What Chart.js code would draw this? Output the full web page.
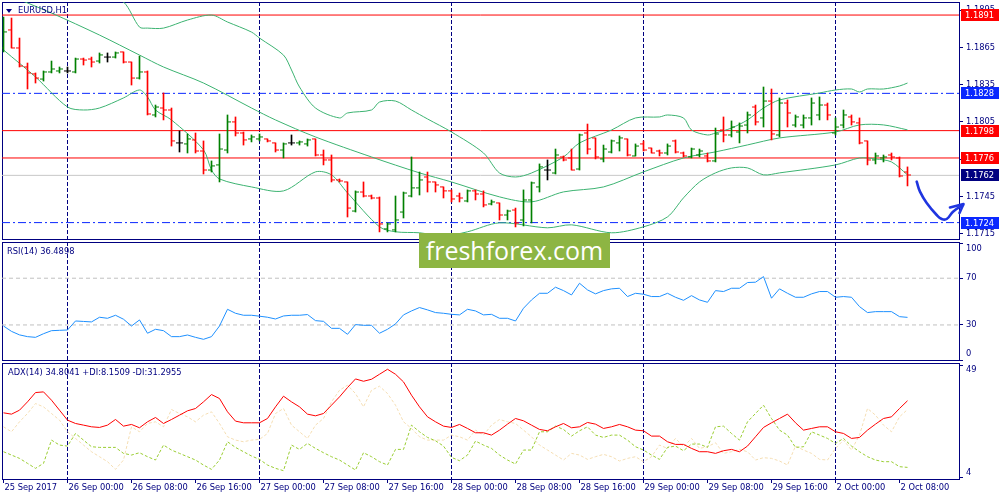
<!DOCTYPE html>
<html><head><meta charset="utf-8">
<script src="https://cdn.jsdelivr.net/npm/chart.js@4.4.1/dist/chart.umd.min.js"></script>
<style>
html,body{margin:0;padding:0;background:#fff;}
#wrap{position:relative;width:1000px;height:500px;overflow:hidden;background:#fff;}
#wrap canvas{position:absolute;left:0;}
.lbl{position:absolute;font-family:'DejaVu Sans';font-size:8.3px;color:#000080;white-space:nowrap;line-height:10px;}
#tri{position:absolute;left:6px;top:9px;width:0;height:0;border-left:3px solid transparent;border-right:3px solid transparent;border-top:4px solid #000080;}
#wm{position:absolute;left:419px;top:233px;width:191px;height:35px;background:#8db543;color:#fff;font-family:'Open Sans';font-size:25px;line-height:35px;text-align:center;}
</style></head><body>
<div id="wrap">
<canvas id="cMain" width="1000" height="241" style="top:0"></canvas>
<canvas id="cRsi" width="1000" height="120" style="top:241px"></canvas>
<canvas id="cAdx" width="1000" height="139" style="top:361px"></canvas>
<div id="tri"></div>
<div class="lbl" style="left:18px;top:5px">EURUSD,H1</div>
<div class="lbl" style="left:7px;top:246px">RSI(14) 36.4898</div>
<div class="lbl" style="left:8px;top:367px">ADX(14) 34.8041 +DI:8.1509 -DI:31.2955</div>
<div id="wm">freshforex.com</div>
</div>
<script>
// ---------- data ----------
const timeLabels = ["25 Sep 2017","26 Sep 00:00","26 Sep 08:00","26 Sep 16:00","27 Sep 00:00","27 Sep 08:00","27 Sep 16:00","28 Sep 00:00","28 Sep 08:00","28 Sep 16:00","29 Sep 00:00","29 Sep 08:00","29 Sep 16:00","2 Oct 00:00","2 Oct 08:00"];
const timeLabelIdx = [0,8,16,24,32,40,48,56,64,72,80,88,96,104,112];
const daySepIdx = [8,32,56,80,104];

const opens = [1.18645,1.18790,1.18645,1.18492,1.18436,1.18395,1.18452,1.18460,1.18460,1.18452,
1.18556,1.18556,1.18540,1.18572,1.18572,1.18613,1.18532,1.18403,1.18452,1.18106,
1.18162,1.18146,1.17881,1.17873,1.17905,1.17816,1.17663,1.17704,1.17824,1.18050,
1.17961,1.17913,1.17913,1.17913,1.17881,1.17824,1.17881,1.17881,1.17873,1.17913,
1.17784,1.17744,1.17583,1.17567,1.17333,1.17486,1.17454,1.17438,1.17189,1.17181,
1.17325,1.17454,1.17519,1.17607,1.17567,1.17527,1.17495,1.17454,1.17414,1.17495,
1.17470,1.17390,1.17398,1.17301,1.17341,1.17261,1.17422,1.17527,1.17663,1.17639,
1.17768,1.17760,1.17671,1.17961,1.17921,1.17752,1.17808,1.17881,1.17913,1.17776,
1.17873,1.17840,1.17816,1.17800,1.17897,1.17800,1.17768,1.17784,1.17776,1.17736,
1.17985,1.17945,1.17969,1.18025,1.18170,1.18082,1.18218,1.17945,1.18202,1.18025,
1.18025,1.18082,1.18106,1.18186,1.17961,1.18025,1.18090,1.18042,1.17897,1.17744,
1.17760,1.17784,1.17760,1.17647];
const highs = [1.18894,1.18886,1.18725,1.18524,1.18444,1.18460,1.18540,1.18492,1.18492,1.18564,
1.18564,1.18572,1.18605,1.18605,1.18613,1.18613,1.18532,1.18580,1.18460,1.18186,
1.18283,1.18162,1.17977,1.17953,1.17961,1.17897,1.17736,1.17953,1.18106,1.18090,
1.17969,1.17945,1.17953,1.17913,1.17881,1.17881,1.17945,1.17897,1.17913,1.17913,
1.17824,1.17784,1.17591,1.17567,1.17495,1.17567,1.17462,1.17446,1.17237,1.17454,
1.17486,1.17768,1.17647,1.17647,1.17567,1.17527,1.17503,1.17478,1.17503,1.17503,
1.17495,1.17422,1.17398,1.17341,1.17357,1.17503,1.17567,1.17712,1.17744,1.17832,
1.17776,1.17832,1.17953,1.18033,1.17921,1.17864,1.17905,1.17937,1.17913,1.17873,
1.17897,1.17840,1.17824,1.17873,1.17905,1.17808,1.17840,1.17832,1.17800,1.18001,
1.18090,1.18058,1.18042,1.18130,1.18186,1.18331,1.18315,1.18243,1.18227,1.18106,
1.18106,1.18243,1.18251,1.18202,1.18082,1.18146,1.18106,1.18082,1.17897,1.17800,
1.17784,1.17800,1.17768,1.17688];
const lows = [1.18613,1.18645,1.18492,1.18315,1.18363,1.18379,1.18444,1.18444,1.18444,1.18444,
1.18508,1.18492,1.18524,1.18532,1.18564,1.18524,1.18347,1.18395,1.18106,1.18090,
1.18066,1.17856,1.17808,1.17800,1.17800,1.17631,1.17647,1.17567,1.17800,1.17937,
1.17864,1.17889,1.17897,1.17889,1.17808,1.17760,1.17864,1.17864,1.17856,1.17776,
1.17704,1.17567,1.17567,1.17285,1.17325,1.17446,1.17430,1.17165,1.17165,1.17165,
1.17277,1.17446,1.17462,1.17486,1.17486,1.17438,1.17406,1.17406,1.17406,1.17422,
1.17366,1.17382,1.17261,1.17261,1.17205,1.17213,1.17237,1.17486,1.17583,1.17631,
1.17736,1.17663,1.17663,1.17792,1.17752,1.17728,1.17800,1.17816,1.17776,1.17776,
1.17816,1.17800,1.17776,1.17784,1.17800,1.17768,1.17760,1.17768,1.17728,1.17728,
1.17889,1.17929,1.17881,1.17961,1.18025,1.18009,1.17905,1.17929,1.18009,1.18009,
1.18001,1.18025,1.18066,1.18066,1.17945,1.18001,1.18025,1.17873,1.17704,1.17712,
1.17728,1.17744,1.17607,1.17535];
const closes = [1.18774,1.18645,1.18500,1.18444,1.18403,1.18452,1.18476,1.18476,1.18460,1.18556,
1.18548,1.18532,1.18589,1.18572,1.18605,1.18532,1.18403,1.18452,1.18114,1.18170,
1.18146,1.17897,1.17881,1.17913,1.17816,1.17663,1.17696,1.17832,1.18050,1.17961,
1.17905,1.17929,1.17929,1.17897,1.17824,1.17873,1.17881,1.17889,1.17905,1.17784,
1.17744,1.17583,1.17575,1.17357,1.17486,1.17454,1.17438,1.17229,1.17229,1.17261,
1.17478,1.17519,1.17583,1.17567,1.17543,1.17495,1.17430,1.17438,1.17495,1.17470,
1.17382,1.17406,1.17301,1.17333,1.17237,1.17422,1.17559,1.17688,1.17663,1.17784,
1.17744,1.17663,1.17945,1.17832,1.17768,1.17832,1.17897,1.17921,1.17784,1.17856,
1.17824,1.17800,1.17800,1.17856,1.17808,1.17776,1.17832,1.17816,1.17736,1.17953,
1.17945,1.18009,1.18017,1.18106,1.18050,1.18218,1.17953,1.18202,1.18122,1.18090,
1.18082,1.18202,1.18186,1.18106,1.18009,1.18106,1.18050,1.17881,1.17744,1.17776,
1.17768,1.17768,1.17615,1.17623];

// Bollinger bands (20,2): [bar index, price]
const bbUpper = [[0,1.19352],[6,1.19232],[12,1.19095],[15,1.19015],[17,1.18813],[18,1.18805],[20,1.18805],[23,1.18870],[26,1.18910],[28,1.18854],[31,1.18773],[32,1.18725],[35,1.18588],[36,1.18468],[37,1.18331],[39,1.18162],[42,1.18082],[43,1.18122],[46,1.18146],[47,1.18210],[49,1.18218],[51,1.18146],[53,1.18074],[56,1.17969],[60,1.17800],[62,1.17639],[64,1.17607],[66,1.17639],[70,1.17768],[72,1.17881],[76,1.17985],[79,1.18082],[82,1.18090],[83,1.18106],[85,1.18082],[86,1.17985],[88,1.17945],[89,1.17961],[91,1.18001],[93,1.18066],[95,1.18162],[97,1.18227],[102,1.18283],[104,1.18307],[106,1.18315],[107,1.18291],[108,1.18315],[110,1.18315],[112,1.18339],[113,1.18363]];
const bbMiddle = [[0,1.19087],[6,1.18926],[12,1.18749],[17,1.18588],[20,1.18492],[25,1.18363],[31,1.18162],[34,1.18066],[39,1.17929],[46,1.17768],[52,1.17640],[56,1.17567],[62,1.17447],[66,1.17407],[70,1.17487],[75,1.17527],[80,1.17648],[85,1.17760],[89,1.17809],[93,1.17865],[97,1.17921],[104,1.17969],[107,1.18026],[110,1.18026],[113,1.17986]];
const bbLower = [[0,1.18629],[4,1.18412],[8,1.18170],[10,1.18146],[12,1.18162],[15,1.18243],[17,1.18307],[18,1.18251],[19,1.18146],[21,1.18066],[25,1.17825],[26,1.17664],[27,1.17591],[31,1.17527],[35,1.17495],[39,1.17648],[41,1.17624],[43,1.17479],[47,1.17206],[49,1.17166],[52,1.17158],[55,1.17133],[58,1.17166],[62,1.17238],[68,1.17198],[71,1.17222],[76,1.17158],[80,1.17206],[83,1.17286],[85,1.17439],[87,1.17567],[89,1.17640],[91,1.17680],[93,1.17680],[95,1.17624],[97,1.17640],[104,1.17704],[107,1.17760],[109,1.17752],[111,1.17728],[113,1.17624]];

const redLevels = [1.1891, 1.1798, 1.1776];
const blueLevels = [1.1828, 1.1724];
const bidPrice = 1.1762;
const priceTicks = [1.1715, 1.1745, 1.1775, 1.1805, 1.1835, 1.1865, 1.1895];

// hand-drawn arrow, [bar index, price]
const arrowPath = [[114.15,1.17569],[114.56,1.17489],[115.4,1.17398],[116.65,1.17301],[117.28,1.17269],[117.9,1.17269],[118.69,1.17328],[119.94,1.17382]];
const arrowHead = [[118.31,1.17362],[120.0,1.17390],[119.5,1.17317]];

const rsi = [29.1,24.5,21.5,20.0,19.4,22.5,25.1,25.4,25.7,33.4,
33.0,32.6,36.6,35.7,38.3,34.9,29.1,34.3,22.9,26.3,
25.1,20.0,20.0,21.4,19.4,17.7,20.0,29.1,43.4,40.0,
38.3,38.3,37.5,36.6,35.1,37.7,38.3,38.3,38.9,33.7,
33.1,27.1,27.1,22.0,30.3,29.7,29.7,22.9,26.3,30.9,
38.6,42.0,44.9,42.9,40.6,40.0,39.1,38.6,43.4,42.0,
38.6,39.1,35.7,35.7,33.4,44.3,51.4,57.1,57.1,62.3,
59.4,55.7,65.7,60.0,56.6,59.4,60.9,61.4,54.3,57.1,
56.3,54.3,54.3,57.1,53.7,51.1,55.1,51.4,49.4,59.4,
58.6,61.4,61.4,66.3,66.6,71.4,52.9,60.9,57.1,53.7,
53.7,56.6,58.6,58.6,53.7,54.3,53.7,45.7,40.6,41.4,
41.4,41.4,37.1,36.49];
const rsiLevels = [30, 70];
const rsiTicks = [0, 30, 70, 100];

const adx = [29.97,29.44,31.03,34.36,38.08,38.35,35.02,31.03,27.04,25.71,
25.05,24.38,24.12,25.05,27.31,24.65,25.32,23.99,26.38,28.11,
25.71,27.31,29.04,30.77,31.70,34.36,37.28,35.69,30.37,26.65,
25.98,25.98,25.98,27.71,32.36,36.62,34.36,32.36,29.44,28.77,
29.70,33.03,36.35,40.08,43.53,42.60,43.40,45.40,47.39,45.40,
42.34,37.02,32.36,28.37,26.38,24.65,24.12,25.32,23.72,21.99,
21.99,21.06,23.05,25.45,27.71,26.78,25.05,23.32,22.79,24.38,
25.71,23.99,24.38,26.11,25.45,23.72,24.38,25.32,24.38,23.05,
22.79,20.66,20.66,18.40,17.34,17.34,15.74,14.41,14.41,13.75,
14.81,15.34,14.41,16.67,20.39,24.12,25.98,27.71,29.44,25.98,
23.05,23.72,24.38,24.38,22.39,21.72,19.73,20.13,23.05,25.45,
27.71,28.37,31.70,34.80];
const plusDI = [14.41,13.08,11.75,9.76,7.76,9.76,19.06,17.07,16.67,21.72,
19.06,16.41,16.14,16.14,16.14,13.75,13.08,14.01,12.42,11.09,
17.07,15.08,13.75,12.42,11.09,9.09,7.36,11.09,18.40,16.14,
14.41,12.70,11.35,9.09,7.76,6.83,17.07,15.34,17.74,15.74,
14.01,12.42,11.09,9.09,7.10,14.01,12.42,10.42,9.09,15.34,
15.34,25.05,22.39,20.13,18.80,16.67,12.15,10.82,13.08,18.67,
17.07,15.74,13.08,11.09,9.49,15.08,15.08,22.39,22.39,24.65,
23.32,20.66,22.79,24.38,21.06,20.13,21.06,21.06,19.06,16.41,
15.08,13.08,11.35,16.14,16.67,14.81,17.47,17.47,16.14,24.38,
24.65,21.72,19.06,26.38,29.70,33.03,27.71,23.05,21.06,16.14,
16.41,22.39,21.06,19.73,17.74,19.73,16.67,14.41,12.42,11.09,
10.42,10.42,8.43,8.15];
const minusDI = [24.38,22.39,26.38,29.70,33.69,32.36,29.70,27.04,22.39,19.73,
17.07,14.41,12.42,10.42,7.36,11.09,24.38,22.39,25.71,26.38,
24.38,31.30,29.70,28.37,26.38,29.04,30.37,25.71,20.39,19.06,
18.40,19.06,19.33,21.72,29.70,31.70,25.05,22.39,19.73,25.05,
27.71,34.36,39.01,41.01,37.68,32.36,39.01,40.61,37.68,33.03,
26.38,23.72,20.39,19.06,19.06,19.06,21.06,20.39,19.06,23.05,
21.06,25.05,27.31,26.38,25.71,23.05,20.39,17.07,15.08,13.08,
11.09,13.75,13.08,11.35,12.42,13.35,12.42,10.69,11.75,12.42,
10.42,12.42,17.07,15.74,19.73,16.41,19.73,15.74,16.41,18.00,
13.75,14.41,15.34,14.41,11.09,12.02,11.75,10.69,9.09,16.67,
15.08,13.75,11.35,11.09,15.74,19.06,15.08,21.06,31.70,29.04,
25.05,22.39,28.37,31.30];
const adxTicks = [4, 49];

// ---------- styling / scales ----------
const NAVY = '#000080';
const FONT = 'DejaVu Sans';
const FSIZE = 8.3;
const UP = '#008000', DOWN = '#ff0000', FLAT = '#000000';
const BB = '#3cb371';
const ARROW = '#1f35e0';
const X_MIN = -0.1875, X_MAX = 119.4375;
const P_MIN = 1.17108, P_MAX = 1.19015;
Chart.defaults.font.family = FONT;
Chart.defaults.font.size = FSIZE;

const barColors = closes.map((c, i) => c > opens[i] ? UP : (c < opens[i] ? DOWN : FLAT));
const pts = arr => arr.map(([x, y]) => ({x, y}));
const series = arr => arr.map((y, i) => ({x: i, y}));
const hline = v => [{x: X_MIN, y: v}, {x: X_MAX, y: v}];

const paneBorder = {
  id: 'paneBorder',
  beforeDatasetsDraw(chart) {
    const {ctx, chartArea: a} = chart;
    ctx.save(); ctx.strokeStyle = NAVY; ctx.lineWidth = 1;
    ctx.strokeRect(a.left + 0.5, a.top + 0.5, a.right - a.left, a.bottom - a.top);
    ctx.restore();
  }
};
const clampLabels = {
  id: 'clampLabels',
  afterDraw(chart) {
    const s = chart.scales.y, a = chart.chartArea, ctx = chart.ctx;
    ctx.save(); ctx.font = FSIZE + 'px "' + FONT + '"'; ctx.fillStyle = NAVY;
    ctx.textAlign = 'left'; ctx.textBaseline = 'middle';
    s.ticks.forEach(t => {
      const y = Math.min(Math.max(s.getPixelForValue(t.value), a.top + 7), a.bottom - 6.5);
      ctx.fillText(String(t.value), a.right + 7, y);
    });
    ctx.restore();
  }
};
const priceBoxes = {
  id: 'priceBoxes',
  afterDraw(chart) {
    const s = chart.scales.y, a = chart.chartArea, ctx = chart.ctx;
    const boxes = [].concat(redLevels.map(v => [v, '#ff0000']), blueLevels.map(v => [v, '#0a28ff']), [[bidPrice, NAVY]]);
    ctx.save(); ctx.font = FSIZE + 'px "' + FONT + '"'; ctx.textAlign = 'left'; ctx.textBaseline = 'middle';
    boxes.forEach(([v, col]) => {
      const y = Math.round(s.getPixelForValue(v));
      ctx.fillStyle = col; ctx.fillRect(a.right + 2, y - 6, 38, 12);
      ctx.fillStyle = '#ffffff'; ctx.fillText(v.toFixed(4), a.right + 6, y + 0.5);
    });
    ctx.restore();
  }
};

function hiddenX() {
  return {
    type: 'linear', min: X_MIN, max: X_MAX, offset: false,
    afterBuildTicks: s => { s.ticks = daySepIdx.map(v => ({value: v})); },
    afterFit: s => { s.height = 0; s.paddingLeft = 0; s.paddingRight = 0; },
    ticks: {display: false},
    grid: {color: NAVY, drawTicks: false, lineWidth: 1, offset: false},
    border: {display: false, dash: [4, 2]}
  };
}
function rightY(min, max, ticks, showLabels, fmt) {
  return {
    type: 'linear', position: 'right', min, max,
    afterBuildTicks: s => { s.ticks = ticks.map(v => ({value: v})); },
    afterFit: s => { s.width = 41; s.paddingTop = 0; s.paddingBottom = 0; },
    ticks: {display: showLabels, color: NAVY, padding: 3, callback: fmt || (v => v)},
    grid: {drawOnChartArea: false, drawTicks: true, tickLength: 4, tickColor: NAVY, offset: false},
    border: {display: false}
  };
}
const baseOpts = {
  responsive: false, animation: false, devicePixelRatio: 1,
  plugins: {legend: {display: false}, tooltip: {enabled: false}},
  elements: {point: {radius: 0}, line: {borderWidth: 1}}
};

// ---------- main price pane ----------
new Chart(document.getElementById('cMain'), {
  type: 'line',
  data: {datasets: [
    {data: pts(arrowPath), borderColor: ARROW, borderWidth: 2.6, tension: 0.45, clip: false, order: -3, borderCapStyle: 'round'},
    {data: pts(arrowHead), borderColor: ARROW, borderWidth: 2.6, clip: false, order: -3, borderCapStyle: 'round', borderJoinStyle: 'round'},
    {data: series(opens), showLine: false, pointStyle: 'dash', pointRotation: 180, pointRadius: 3.5, pointBorderWidth: 1, pointBorderColor: barColors, order: 0},
    {data: series(closes), showLine: false, pointStyle: 'dash', pointRotation: 0, pointRadius: 3.5, pointBorderWidth: 1, pointBorderColor: barColors, order: 0},
    {type: 'bar', data: highs.map((h, i) => ({x: i, y: [lows[i], h]})), backgroundColor: barColors, barThickness: 1, borderWidth: 0, order: 1},
    {data: pts(bbUpper), borderColor: BB, tension: 0.3, order: 5},
    {data: pts(bbMiddle), borderColor: BB, tension: 0.3, order: 5},
    {data: pts(bbLower), borderColor: BB, tension: 0.3, order: 5},
    ...redLevels.map(v => ({data: hline(v), borderColor: '#ff0000', order: 10})),
    ...blueLevels.map(v => ({data: hline(v), borderColor: '#0a28ff', borderDash: [8, 3, 2, 3], order: 10})),
    {data: hline(bidPrice), borderColor: '#c8c8c8', order: 11}
  ]},
  options: Object.assign({}, baseOpts, {
    layout: {padding: {left: 2, top: 2, right: 0, bottom: 2}, autoPadding: false},
    scales: {
      x: hiddenX(),
      y: rightY(P_MIN, P_MAX, priceTicks, true, v => Number(v).toFixed(4))
    }
  }),
  plugins: [paneBorder, priceBoxes]
});

// ---------- RSI pane ----------
new Chart(document.getElementById('cRsi'), {
  type: 'line',
  data: {datasets: [
    {data: series(rsi), borderColor: '#1e90ff', order: 0},
    ...rsiLevels.map(v => ({data: hline(v), borderColor: '#c0c0c0', borderDash: [4, 3], order: 5}))
  ]},
  options: Object.assign({}, baseOpts, {
    layout: {padding: {left: 2, top: 1, right: 0, bottom: 1}, autoPadding: false},
    scales: {x: hiddenX(), y: rightY(0, 101, rsiTicks, false)}
  }),
  plugins: [paneBorder, clampLabels]
});

// ---------- ADX pane + time axis ----------
new Chart(document.getElementById('cAdx'), {
  type: 'line',
  data: {datasets: [
    {data: series(adx), borderColor: '#ff0000', order: 0},
    {data: series(plusDI), borderColor: '#9acd32', borderDash: [3, 2], order: 1},
    {data: series(minusDI), borderColor: '#f5deb3', borderDash: [3, 2], order: 2}
  ]},
  options: Object.assign({}, baseOpts, {
    layout: {padding: {left: 2, top: 2, right: 0, bottom: 0}, autoPadding: false},
    scales: {
      x: {
        type: 'linear', min: X_MIN, max: X_MAX, offset: false,
        afterBuildTicks: s => { s.ticks = timeLabelIdx.map(v => ({value: v})); },
        afterFit: s => { s.height = 21; s.paddingLeft = 0; s.paddingRight = 0; },
        ticks: {display: true, autoSkip: false, maxRotation: 0, minRotation: 0, align: 'start', padding: 0, labelOffset: 1, color: NAVY,
          callback: (v, i) => timeLabels[i]},
        grid: {color: c => (c.tick && daySepIdx.includes(c.tick.value)) ? NAVY : 'rgba(0,0,0,0)', tickColor: NAVY, drawTicks: true, tickLength: 4, lineWidth: 1, offset: false},
        border: {display: false, dash: [4, 2]}
      },
      y: rightY(3.5, 49.9, adxTicks, false)
    }
  }),
  plugins: [paneBorder, clampLabels]
});
</script>
</body></html>
